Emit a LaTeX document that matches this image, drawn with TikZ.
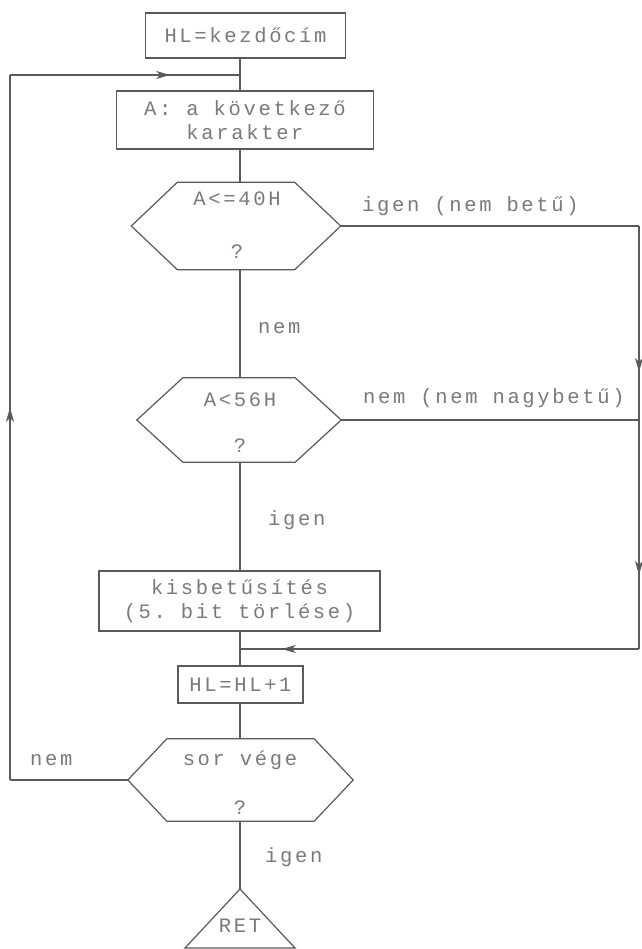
\documentclass[tikz,border=0pt]{standalone}
\usepackage{fontspec}
\setmonofont{Liberation Mono}[LetterSpace=13]
\usetikzlibrary{arrows.meta,decorations.markings}
\definecolor{ln}{HTML}{5A5A5A}
\definecolor{tx}{HTML}{7A7A7A}
\tikzset{
  conn/.style={draw=ln, line width=1.2pt},
  txt/.style={text=tx, font=\ttfamily\fontsize{20.5}{24}\selectfont, inner sep=0pt, align=center},
  boxnode/.style={draw=ln, line width=1.2pt, rectangle, text=tx, font=\ttfamily\fontsize{20.5}{24}\selectfont, align=center, inner sep=0pt},
  decnode/.style={rectangle, draw=none, inner sep=0pt},
  arrowat/.style={postaction={decorate}, decoration={markings, mark=at position #1 with {\arrow[ln]{Stealth[length=14pt,width=8pt,inset=4pt]}}}},
  twoarrows/.style 2 args={postaction={decorate}, decoration={markings,
      mark=at position #1 with {\arrow[ln]{Stealth[length=14pt,width=8pt,inset=4pt]}},
      mark=at position #2 with {\arrow[ln]{Stealth[length=14pt,width=8pt,inset=4pt]}}}}
}
\newcommand{\hexa}[2]{%
  \draw[conn] (#1.west) -- ([xshift=#2]#1.north west) -- ([xshift=-#2]#1.north east)
    -- (#1.east) -- ([xshift=-#2]#1.south east) -- ([xshift=#2]#1.south west) -- cycle;}
\begin{document}
\begin{tikzpicture}[x=1pt,y=-1pt]
\useasboundingbox (0,0) rectangle (641,949);
\fill[white] (0,0) rectangle (641,949);

% process boxes
\node[boxnode, minimum width=200pt, minimum height=45pt] (n1) at (245.5,35.5) {HL=kezdőcím};
\node[boxnode, minimum width=257pt, minimum height=58pt] (n2) at (245,120) {A: a következő\\karakter};
\node[boxnode, minimum width=281pt, minimum height=60pt] (n3) at (239.5,601) {kisbetűsítés\\(5. bit törlése)};
\node[boxnode, minimum width=125pt, minimum height=37pt] (n4) at (240.5,684.5) {HL=HL+1};

% decisions
\node[decnode, minimum width=209pt, minimum height=87pt] (d1) at (236,226) {};
\hexa{d1}{46pt}
\node[txt] (d1a) at (237,199) {A<=40H};
\node[txt] (d1b) at (237,252) {?};

\node[decnode, minimum width=204pt, minimum height=84pt] (d2) at (239,420) {};
\hexa{d2}{46pt}
\node[txt] (d2a) at (240,400) {A<56H};
\node[txt] (d2b) at (240,446) {?};

\node[decnode, minimum width=225pt, minimum height=82pt] (d3) at (240.5,780) {};
\hexa{d3}{39pt}
\node[txt] (d3a) at (240,760) {sor vége};
\node[txt] (d3b) at (240,808) {?};

% terminal
\coordinate (rt) at (240,889);
\coordinate (rbr) at (295,948);
\coordinate (rbl) at (185,948);
\draw[conn] (rt) -- (rbr) -- (rbl) -- cycle;
\node[txt] (ret) at (240,926) {RET};

% coordinates
\coordinate (j1) at (240,75);
\coordinate (lc) at (10,75);
\coordinate (lb) at (10,780);
\coordinate (r1) at (639,226);
\coordinate (r2) at (639,649);
\coordinate (j2) at (240,649);

% main column
\draw[conn] (n1.south -| j1) -- (j1) -- (n2.north -| j1);
\draw[conn] (n2.south -| j1) -- (d1.north -| j1);
\draw[conn] (d1.south -| j1) -- (d2.north -| j1);
\draw[conn] (d2.south -| j1) -- (n3.north -| j1);
\draw[conn] (n3.south -| j1) -- (j2) -- (n4.north -| j1);
\draw[conn] (n4.south -| j1) -- (d3.north -| j1);
\draw[conn] (d3.south -| j1) -- (rt);

% loop back
\draw[conn] (d3.west) -- (lb);
\draw[conn, arrowat=0.528] (lb) -- (lc);
\draw[conn, arrowat=0.696] (lc) -- (j1);

% right side
\draw[conn] (d1.east) -- (r1);
\draw[conn] (d2.east) -- (d2.east -| r1);
\draw[conn, twoarrows={0.345}{0.825}] (r1) -- (r2);
\draw[conn, arrowat=0.895] (r2) -- (j2);

% labels
\node[txt, anchor=west] (l1) at (362,206) {igen (nem betű)};
\node[txt, anchor=west] (l2) at (258,328) {nem};
\node[txt, anchor=west] (l3) at (363,398) {nem (nem nagybetű)};
\node[txt, anchor=west] (l4) at (268,520) {igen};
\node[txt, anchor=west] (l5) at (30,760) {nem};
\node[txt, anchor=west] (l6) at (265,857) {igen};
\end{tikzpicture}
\end{document}
